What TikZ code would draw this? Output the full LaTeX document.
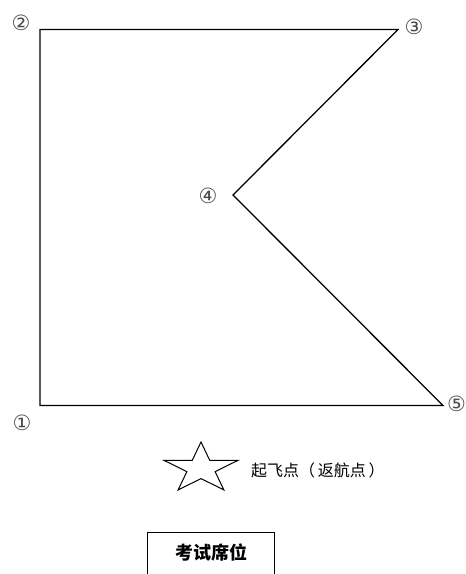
\documentclass[tikz,border=0pt]{standalone}
\usepackage{fontspec}
\newfontfamily\cjk{Noto Sans CJK SC}
\newfontfamily\symfont{DejaVu Sans}
\begin{document}
\begin{tikzpicture}[x=1pt,y=-1pt,
  route/.style={draw=black,line width=1.3pt,line join=miter},
  ptlabel/.style={font=\symfont\fontsize{21}{21}\selectfont,text=black!70,inner sep=0pt},
  caption/.style={font=\cjk\fontsize{16}{16}\selectfont,inner sep=0pt,anchor=west},
  seat/.style={font=\cjk\bfseries\fontsize{18}{18}\selectfont,inner sep=0pt}]
\useasboundingbox (0,0) rectangle (466,574);
\fill[white] (0,0) rectangle (466,574);
\coordinate (p1) at (40,405.5);
\coordinate (p2) at (40,29.5);
\coordinate (p3) at (398,29.5);
\coordinate (p4) at (233,195);
\coordinate (p5) at (443,405.5);
\draw[route] (p5) -- (p1) -- (p2) -- (p3) -- (p4) -- cycle;
\node[ptlabel] (l1) at (22,423) {①};
\node[ptlabel] (l2) at (21,23) {②};
\node[ptlabel] (l3) at (414,27) {③};
\node[ptlabel] (l4) at (208,196) {④};
\node[ptlabel] (l5) at (456.5,404) {⑤};
\begin{scope}[shift={(201,468.5)},x=1.47pt,y=1pt]
\draw[line width=1pt,line join=miter] (90:26.5) -- (126:10.1) -- (162:26.5) -- (198:10.1) -- (234:26.5) -- (270:10.1) -- (306:26.5) -- (342:10.1) -- (18:26.5) -- (54:10.1) -- cycle;
\end{scope}
\node[caption] (home) at (251,470) {起飞点（\,返航点\,）};
\draw[line width=1pt] (147,580) -- (147,532) -- (274,532) -- (274,580);
\node[seat] (seattext) at (211,552) {考试席位};
\end{tikzpicture}
\end{document}
